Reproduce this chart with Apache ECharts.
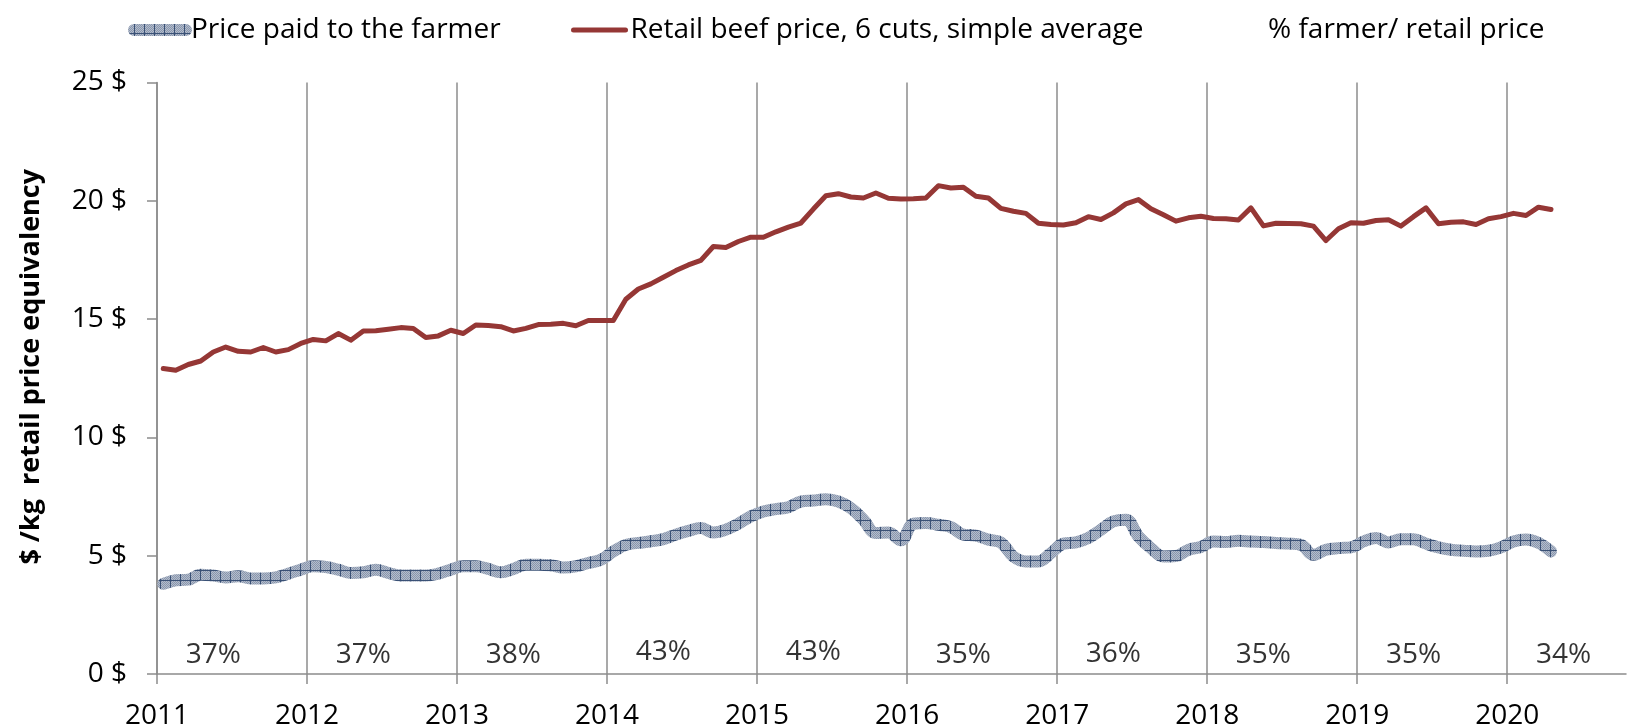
<!DOCTYPE html>
<html>
<head>
<meta charset="utf-8">
<script src="https://cdn.jsdelivr.net/npm/echarts@6/dist/echarts.min.js"></script>
<style>
  html, body { margin: 0; padding: 0; background: #fff; }
  #chart { width: 1640px; height: 727px; }
</style>
</head>
<body>
<div id="chart"></div>
<script>
// Year ticks on the time axis
const years = [2011, 2012, 2013, 2014, 2015, 2016, 2017, 2018, 2019, 2020];

// Monthly prices, January 2011 to April 2020 ($/kg, retail price equivalency)
const farmerPrice = [
  3.81, 3.96, 3.99, 4.20, 4.16, 4.08, 4.13, 4.04, 4.04, 4.08, 4.24, 4.41,
  4.55, 4.52, 4.41, 4.27, 4.30, 4.41, 4.27, 4.16, 4.16, 4.16, 4.24, 4.41,
  4.55, 4.55, 4.44, 4.30, 4.44, 4.62, 4.62, 4.60, 4.50, 4.55, 4.69, 4.83,
  5.18, 5.46, 5.54, 5.61, 5.70, 5.89, 6.05, 6.17, 5.98, 6.10, 6.35, 6.66,
  6.87, 6.97, 7.05, 7.29, 7.33, 7.39, 7.29, 7.01, 6.52, 5.96, 5.98, 5.65,
  6.35, 6.38, 6.31, 6.21, 5.89, 5.85, 5.68, 5.56, 4.97, 4.76, 4.76, 5.11,
  5.51, 5.56, 5.75, 6.10, 6.45, 6.52, 5.81, 5.32, 4.97, 4.99, 5.25, 5.37,
  5.60, 5.58, 5.63, 5.60, 5.58, 5.54, 5.51, 5.46, 5.04, 5.25, 5.32, 5.35,
  5.60, 5.75, 5.56, 5.70, 5.70, 5.51, 5.35, 5.25, 5.21, 5.18, 5.21, 5.35,
  5.60, 5.68, 5.54, 5.18
];

const retailPrice = [
  12.91, 12.84, 13.08, 13.23, 13.61, 13.82, 13.64, 13.61, 13.80, 13.61, 13.71, 13.97,
  14.14, 14.08, 14.39, 14.11, 14.50, 14.51, 14.57, 14.64, 14.60, 14.22, 14.29, 14.53,
  14.39, 14.75, 14.73, 14.68, 14.50, 14.61, 14.77, 14.78, 14.82, 14.72, 14.94, 14.94,
  14.94, 15.84, 16.27, 16.49, 16.77, 17.05, 17.29, 17.48, 18.07, 18.03, 18.28, 18.46,
  18.46, 18.69, 18.89, 19.06, 19.65, 20.21, 20.30, 20.16, 20.12, 20.33, 20.11, 20.08,
  20.09, 20.12, 20.64, 20.54, 20.57, 20.19, 20.12, 19.68, 19.56, 19.47, 19.05, 19.00,
  18.98, 19.07, 19.33, 19.21, 19.49, 19.87, 20.05, 19.66, 19.41, 19.14, 19.28, 19.35,
  19.25, 19.24, 19.19, 19.70, 18.94, 19.05, 19.04, 19.03, 18.93, 18.32, 18.82, 19.07,
  19.05, 19.17, 19.20, 18.93, 19.33, 19.70, 19.03, 19.09, 19.11, 19.00, 19.24, 19.33,
  19.47, 19.38, 19.73, 19.63
];

// Farmer share of the retail price, one per year, and the height ($) its label sits at
const shareLabels = ['37%', '37%', '38%', '43%', '43%', '35%', '36%', '35%', '35%', '34%'];
const shareLevel  = [0.80, 0.80, 0.80, 0.93, 0.93, 0.80, 0.86, 0.80, 0.80, 0.80];

const SERIES_FARMER = 'Price paid to the farmer';
const SERIES_RETAIL = 'Retail beef price, 6 cuts, simple average';
const SERIES_SHARE = '% farmer/ retail price';

const FONT = '"Open Sans", sans-serif';
const FONT_SIZE = 28;
const AXIS_GREY = '#8c8c8c';
const RETAIL_RED = '#953735';
const FIRST_YEAR = years[0];
const AXIS_END = FIRST_YEAR + 117.5 / 12;        // axis runs to mid-October 2020
const midMonth = i => FIRST_YEAR + (i + 0.5) / 12;

// Hatched fill for the farmer price band: stippled blue-grey with a dark grid
function makeHatch() {
  const s = 10;
  const c = document.createElement('canvas');
  c.width = s; c.height = s;
  const g = c.getContext('2d');
  g.fillStyle = '#b4bdcc';
  g.fillRect(0, 0, s, s);
  g.fillStyle = '#8996ad';
  for (let y = 0; y < s; y++) for (let x = 0; x < s; x++) if ((x + y) % 2 === 0) g.fillRect(x, y, 1, 1);
  g.fillStyle = '#3a5176';
  g.fillRect(0, 0, s, 1);
  g.fillRect(0, 0, 1, s);
  return { image: c, repeat: 'repeat' };
}
const hatch = makeHatch();

// One legend block per entry so each entry keeps its own place in the header row
function legendBlock(name, left, lineWidth) {
  return {
    left: left,
    top: 16,
    padding: 0,
    itemWidth: 52,
    itemHeight: 14,
    textStyle: { fontSize: FONT_SIZE, color: '#000', fontFamily: FONT },
    data: [{
      name: name,
      itemStyle: { color: 'rgba(0,0,0,0)', borderWidth: 0 },
      lineStyle: { width: lineWidth, cap: 'round' }
    }]
  };
}

const chart = echarts.init(document.getElementById('chart'), null, { renderer: 'canvas' });

chart.setOption({
  animation: false,
  textStyle: { fontFamily: FONT },
  legend: [
    legendBlock(SERIES_FARMER, 128, 12),
    legendBlock(SERIES_RETAIL, 571, 5),
    legendBlock(SERIES_SHARE, 1230, 0)
  ],
  grid: { left: 157, right: 14, top: 82.5, bottom: 53, containLabel: false, outerBoundsMode: 'none' },
  xAxis: {
    type: 'value',
    min: FIRST_YEAR,
    max: AXIS_END,
    interval: 1,
    axisLine: { lineStyle: { color: AXIS_GREY, width: 1.5 } },
    axisTick: { show: true, length: 10, customValues: years, lineStyle: { color: AXIS_GREY, width: 1.5 } },
    axisLabel: {
      customValues: years,
      formatter: v => String(Math.round(v)),
      fontSize: FONT_SIZE, color: '#000', margin: 28, fontFamily: FONT
    },
    splitLine: { show: true, lineStyle: { color: AXIS_GREY, width: 1.5 } }
  },
  yAxis: {
    type: 'value',
    min: 0, max: 25, interval: 5,
    name: '$ /kg  retail price equivalency',
    nameLocation: 'middle',
    nameGap: 112,
    nameTextStyle: { fontSize: 27, fontWeight: 'bold', color: '#000', fontFamily: FONT, padding: [0, 0, 0, 23] },
    axisLine: { show: true, lineStyle: { color: AXIS_GREY, width: 1.5 } },
    axisTick: { show: true, length: 10, lineStyle: { color: AXIS_GREY, width: 1.5 } },
    axisLabel: { formatter: '{value} $', fontSize: FONT_SIZE, color: '#000', margin: 30, fontFamily: FONT },
    splitLine: { show: false }
  },
  series: [
    {
      name: SERIES_FARMER,
      type: 'line',
      data: farmerPrice.map((v, i) => [midMonth(i), v]),
      symbol: 'none',
      smooth: 0.4,
      itemStyle: { color: hatch },
      lineStyle: { width: 12, color: hatch, cap: 'round', join: 'round' },
      z: 2
    },
    {
      name: SERIES_RETAIL,
      type: 'line',
      data: retailPrice.map((v, i) => [midMonth(i), v]),
      symbol: 'none',
      itemStyle: { color: RETAIL_RED },
      lineStyle: { width: 5, color: RETAIL_RED, cap: 'round', join: 'round' },
      z: 3
    },
    {
      name: SERIES_SHARE,
      type: 'scatter',
      data: years.map((y, k) => [y + 4.5 / 12, shareLevel[k]]),
      symbolSize: 1,
      itemStyle: { color: 'rgba(0,0,0,0)' },
      label: {
        show: true,
        position: 'inside',
        formatter: p => shareLabels[p.dataIndex],
        fontSize: FONT_SIZE, color: '#000', fontFamily: FONT
      },
      z: 4
    }
  ]
});
</script>
</body>
</html>
